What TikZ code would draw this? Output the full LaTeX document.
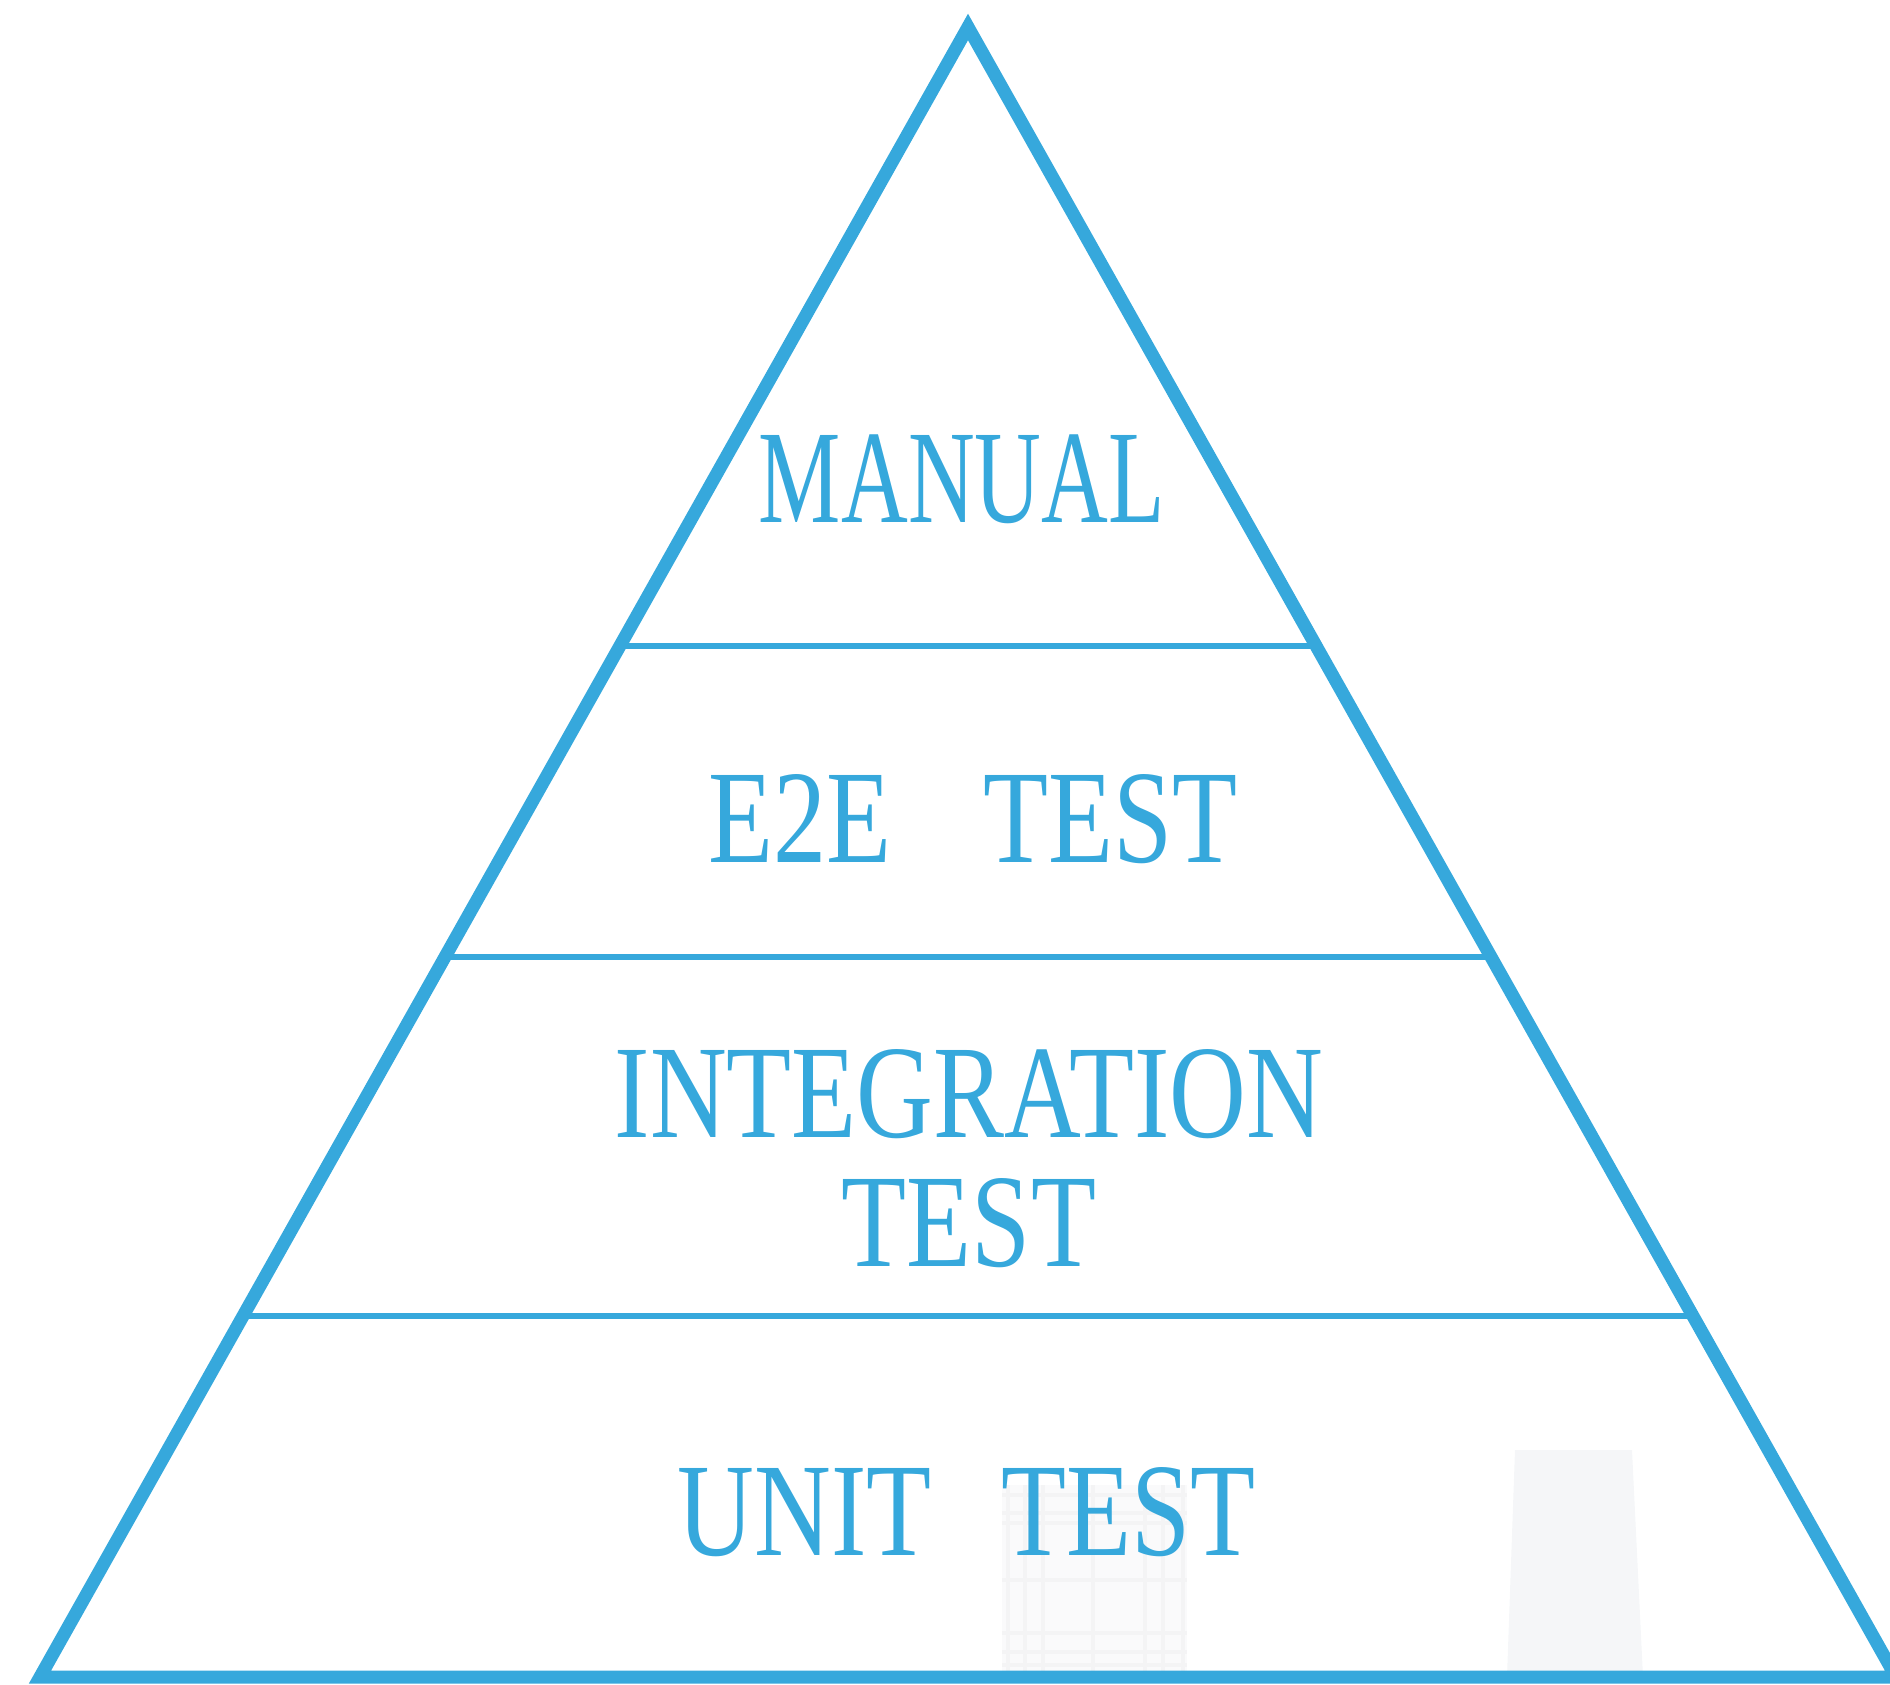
\documentclass[tikz,border=0pt]{standalone}
\usepackage{fontspec}
\usetikzlibrary{calc}
\newfontfamily\pyrfont[FakeStretch=0.8]{Liberation Serif}
\definecolor{pyrblue}{HTML}{36A8DC}
\definecolor{faintgray}{HTML}{F5F6F8}
\tikzset{
	layertext/.style={anchor=base, text=pyrblue, inner sep=0pt, font=\pyrfont\fontsize{37.8}{36.5}\selectfont, align=center},
	divider/.style={pyrblue, line width=1.6pt},
	outline/.style={pyrblue, line width=3.7pt, line join=miter}
}
\begin{document}
\begin{tikzpicture}[x=0.01cm, y=-0.01cm]
		\useasboundingbox (0,0) rectangle (1890,1684);
		\coordinate (apex) at (968,27);
		\coordinate (bl) at (40,1677);
		\coordinate (br) at (1896,1677);
		% faint background
		\fill[faintgray] (1515,1450)--(1632,1450)--(1643,1677)--(1507,1677)--cycle;
		\fill[faintgray!50] (1002,1485) rectangle (1187,1677);
		\foreach \x in {1008,1025,1043,1093,1145,1163,1183}
			\draw[faintgray!85!gray!40, line width=1.3pt] (\x,1485)--(\x,1677);
		\foreach \y in {1495,1513,1523,1580,1633,1652,1665}
			\draw[faintgray!85!gray!40, line width=1.3pt] (1002,\y)--(1187,\y);
		% layers
		\foreach \t in {0.375,0.5636,0.7812}
			\draw[divider] ($(apex)!\t!(bl)$)--($(apex)!\t!(br)$);
		\draw[outline] (apex)--(bl)--(br)--cycle;
		\node[layertext] (manual) at (962,522) {\scalebox{0.87}[1]{MANUAL}};
		\node[layertext] (e2e) at (973,862) {E2E\hspace{0.92cm}TEST};
		\node[layertext] (integration) at (969,1266) {INTEGRATION\\TEST};
		\node[layertext] (unit) at (967,1555) {UNIT\hspace{0.7cm}TEST};
\end{tikzpicture}
\end{document}
